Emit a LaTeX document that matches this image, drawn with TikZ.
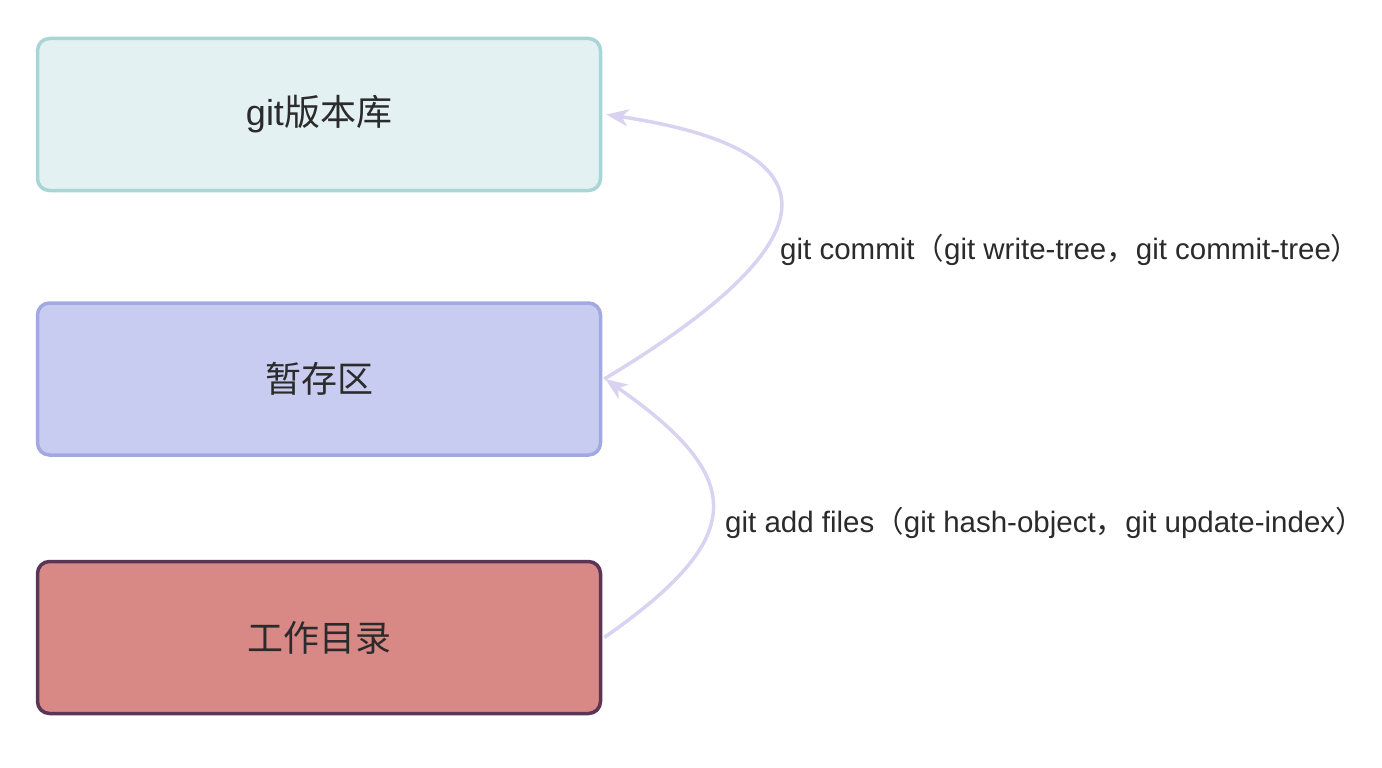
\documentclass[tikz,border=0pt]{standalone}
\usepackage{fontspec}
\setmainfont{Liberation Sans}
\newfontfamily\cjk{Noto Sans CJK SC}
\usetikzlibrary{arrows.meta}
\definecolor{txt}{HTML}{2B2B2B}
\definecolor{f1}{HTML}{E3F1F2}
\definecolor{d1}{HTML}{A8D5D6}
\definecolor{f2}{HTML}{C8CCF0}
\definecolor{d2}{HTML}{A2A9E0}
\definecolor{f3}{HTML}{D88985}
\definecolor{d3}{HTML}{5A3556}
\definecolor{arr}{HTML}{D9D2F0}
\tikzset{
  box/.style={draw, line width=3.5pt, rounded corners=12pt, minimum width=563pt,
    minimum height=152pt, inner sep=0pt, text=txt, font=\fontsize{36}{42}\selectfont},
  flow/.style={draw=arr, line width=3.5pt, -{Stealth[length=22pt,width=17pt,inset=6pt]}},
  lbl/.style={anchor=west, text=txt, inner sep=0pt, font=\fontsize{29.5}{34}\selectfont}
}
\begin{document}
\begin{tikzpicture}[x=1pt,y=-1pt]
\useasboundingbox (0,0) rectangle (1382,768);
\node[box, fill=f1, draw=d1] (repo) at (319,114.5) {git{\cjk 版本库}};
\node[box, fill=f2, draw=d2] (stage) at (319,379) {\cjk 暂存区};
\node[box, fill=f3, draw=d3] (work) at (319,637.5) {\cjk 工作目录};
\draw[flow] ([xshift=2pt]stage.east) .. controls +(233,-140) and +(233,35) .. ([xshift=4pt]repo.east);
\draw[flow] ([xshift=2pt]work.east) .. controls +(143,-100) and +(143,100) .. ([xshift=3pt]stage.east);
\node[lbl] (l1) at (780,250) {git commit{\cjk （}git write-tree{\cjk ，}git commit-tree{\cjk ）}};
\node[lbl] (l2) at (725,523) {git add files{\cjk （}git hash-object{\cjk ，}git update-index{\cjk ）}};
\end{tikzpicture}
\end{document}
